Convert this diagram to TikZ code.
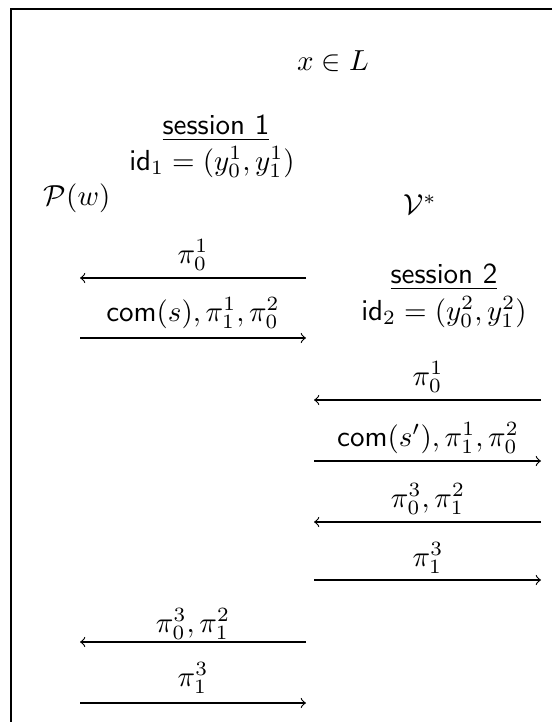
\documentclass[tikz,border=0pt]{standalone}
\usepackage{amsmath}
\begin{document}
\begin{tikzpicture}[x=0.345pt,y=-0.345pt,
  msg/.style={->,line width=0.4pt},
  lab/.style={inner sep=0pt}]
\useasboundingbox (0,0) rectangle (552,722);
% frame
\coordinate (fTR) at (552,9);
\coordinate (fTL) at (11,9);
\coordinate (fBL) at (11,722);
\draw[line width=0.5pt] (fTR) -- (fTL) -- (fBL);
% headings
\node[lab] (xL) at (333,61) {$x\in L$};
\node[lab] (s1) at (216,128) {\underline{\textsf{session 1}}};
\node[lab] (id1) at (212,162) {$\mathsf{id}_1=(y_0^1,y_1^1)$};
\node[lab] (P) at (77,198) {$\mathcal{P}(w)$};
\node[lab] (V) at (420,205) {$\mathcal{V}^*$};
\node[lab] (s2) at (444,277) {\underline{\textsf{session 2}}};
\node[lab] (id2) at (444,312) {$\mathsf{id}_2=(y_0^2,y_1^2)$};
% arrow end points
\coordinate (a1r) at (306,278); \coordinate (a1l) at (80,278);
\coordinate (a2l) at (80,338);  \coordinate (a2r) at (306,338);
\coordinate (a3r) at (541,400); \coordinate (a3l) at (314,400);
\coordinate (a4l) at (314,461); \coordinate (a4r) at (541,461);
\coordinate (a5r) at (541,522); \coordinate (a5l) at (314,522);
\coordinate (a6l) at (314,580); \coordinate (a6r) at (541,580);
\coordinate (a7r) at (306,642); \coordinate (a7l) at (80,642);
\coordinate (a8l) at (80,703);  \coordinate (a8r) at (306,703);
% messages
\draw[msg] (a1r) -- (a1l);
\node[lab] (m1) at (193,255) {$\pi_0^1$};
\draw[msg] (a2l) -- (a2r);
\node[lab] (m2) at (193,313) {$\mathsf{com}(s),\pi_1^1,\pi_0^2$};
\draw[msg] (a3r) -- (a3l);
\node[lab] (m3) at (428,377) {$\pi_0^1$};
\draw[msg] (a4l) -- (a4r);
\node[lab] (m4) at (428,438) {$\mathsf{com}(s'),\pi_1^1,\pi_0^2$};
\draw[msg] (a5r) -- (a5l);
\node[lab] (m5) at (428,499) {$\pi_0^3,\pi_1^2$};
\draw[msg] (a6l) -- (a6r);
\node[lab] (m6) at (428,558) {$\pi_1^3$};
\draw[msg] (a7r) -- (a7l);
\node[lab] (m7) at (193,624) {$\pi_0^3,\pi_1^2$};
\draw[msg] (a8l) -- (a8r);
\node[lab] (m8) at (193,678) {$\pi_1^3$};
\end{tikzpicture}
\end{document}
